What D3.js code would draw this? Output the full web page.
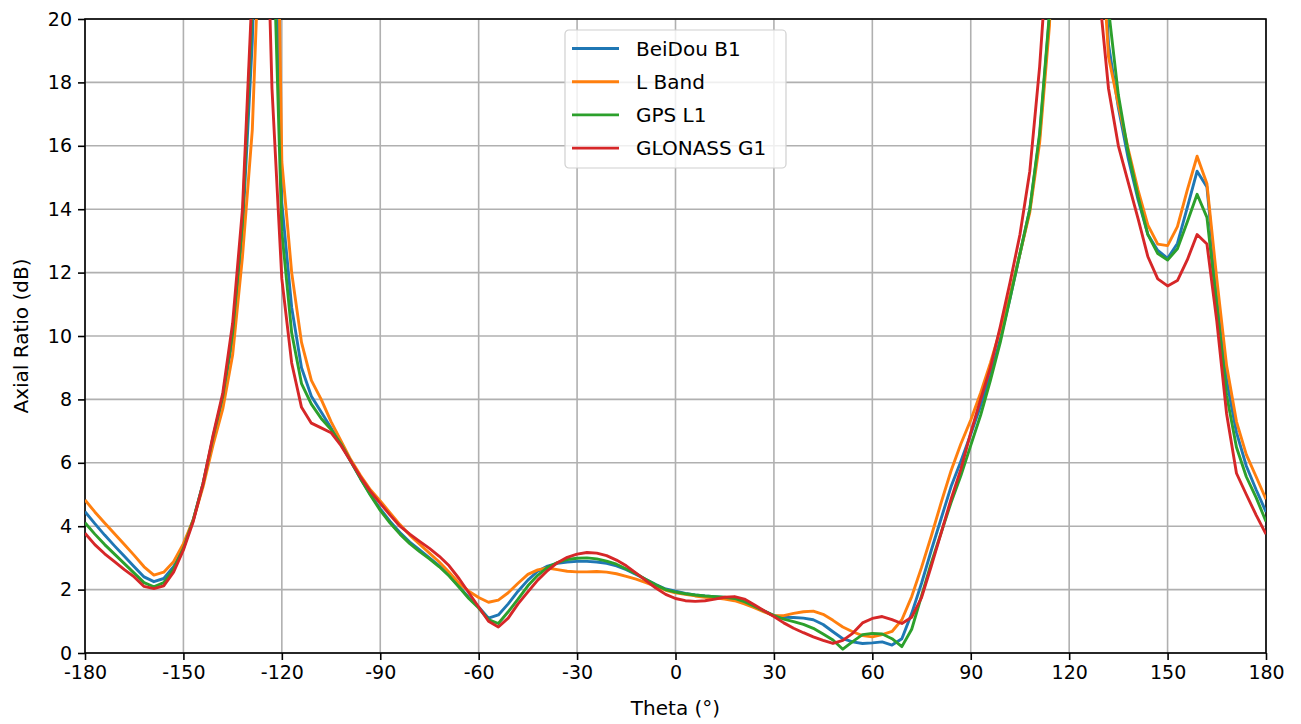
<!DOCTYPE html>
<html>
<head>
<meta charset="utf-8">
<script src="https://cdn.jsdelivr.net/npm/d3@7"></script>
<style>
    body{margin:0;background:#fff;}
    text{font-family:"DejaVu Sans",sans-serif;fill:#000;}
    .grid line{stroke:#b0b0b0;stroke-width:1.6;}
    .axis path,.axis line{stroke:#000;stroke-width:1.6;}
</style>
</head>
<body>
<div id="chart"></div>
<script>
// sampling angle (deg), one value per 3 degrees
const theta=[-180,-177,-174,-171,-168,-165,-162,-159,-156,-153,-150,-147,-144,-141,-138,-135,-132,-129,-126,-123,-120,
    -117,-114,-111,-108,-105,-102,-99,-96,-93,-90,-87,-84,-81,-78,-75,-72,-69,-66,-63,-60,
    -57,-54,-51,-48,-45,-42,-39,-36,-33,-30,-27,-24,-21,-18,-15,-12,-9,-6,-3,0,
    3,6,9,12,15,18,21,24,27,30,33,36,39,42,45,48,51,54,57,60,
    63,66,69,72,75,78,81,84,87,90,93,96,99,102,105,108,111,114,117,120,
    123,126,129,132,135,138,141,144,147,150,153,156,159,162,165,168,171,174,177,180];

const beidouB1=[4.46,4.08,3.72,3.38,3.05,2.72,2.4,2.25,2.35,2.72,3.35,4.2,5.35,6.75,8.1,9.9,13.3,19.3,30,28,14.2,
    10.9,9.0,8.1,7.6,7.1,6.6,6.05,5.5,5.0,4.55,4.15,3.8,3.5,3.25,3.0,2.75,2.45,2.1,1.75,1.45,
    1.1,1.2,1.55,1.95,2.3,2.58,2.74,2.83,2.87,2.89,2.89,2.87,2.83,2.75,2.63,2.48,2.32,2.16,2.02,1.95,
    1.88,1.83,1.8,1.78,1.75,1.7,1.6,1.47,1.32,1.18,1.13,1.12,1.1,1.05,0.9,0.67,0.45,0.35,0.3,0.32,
    0.35,0.25,0.45,1.25,2.2,3.25,4.25,5.25,6.05,6.9,7.8,8.75,9.9,11.2,12.6,14.0,16.3,20.1,30,38,
    38,33,25,19.2,17.2,15.6,14.3,13.2,12.7,12.45,12.92,14.05,15.2,14.7,11.4,8.6,6.96,5.9,5.15,4.45];

const lBand=[4.83,4.45,4.1,3.76,3.42,3.08,2.72,2.46,2.55,2.88,3.45,4.2,5.25,6.55,7.7,9.4,12.5,16.5,25,35,15.5,
    12.0,9.8,8.6,8.0,7.3,6.7,6.1,5.6,5.15,4.8,4.42,4.05,3.72,3.43,3.15,2.87,2.55,2.2,1.95,1.75,
    1.6,1.67,1.9,2.2,2.48,2.62,2.68,2.63,2.58,2.56,2.56,2.57,2.55,2.5,2.42,2.33,2.22,2.1,1.98,1.9,
    1.85,1.8,1.76,1.74,1.7,1.65,1.55,1.43,1.3,1.18,1.18,1.25,1.3,1.32,1.22,1.03,0.82,0.67,0.55,0.51,
    0.58,0.68,1.05,1.78,2.7,3.7,4.75,5.75,6.6,7.35,8.2,9.15,10.2,11.3,12.6,13.9,16.1,19.8,29,37,
    38,33,24,18.8,17.3,15.9,14.6,13.5,12.9,12.85,13.45,14.6,15.67,14.8,11.8,9.06,7.3,6.26,5.56,4.85];

const gpsL1=[4.11,3.75,3.42,3.12,2.82,2.52,2.22,2.09,2.22,2.65,3.3,4.2,5.35,6.8,8.1,10.1,13.6,20.5,33,24,13.3,
    10.1,8.5,7.85,7.4,7.05,6.6,6.05,5.5,4.98,4.5,4.1,3.75,3.45,3.2,2.97,2.72,2.43,2.08,1.72,1.42,
    1.05,0.93,1.3,1.7,2.12,2.45,2.7,2.85,2.95,2.99,3.0,2.97,2.9,2.8,2.65,2.5,2.32,2.15,2.0,1.92,
    1.87,1.83,1.8,1.78,1.76,1.72,1.62,1.48,1.33,1.18,1.07,0.99,0.9,0.78,0.6,0.41,0.12,0.36,0.58,0.62,
    0.6,0.45,0.2,0.75,1.8,2.85,3.8,4.75,5.6,6.55,7.5,8.6,9.8,11.2,12.6,14.0,16.4,20.2,30,38,
    39,35,26,20.3,17.6,15.8,14.4,13.2,12.6,12.4,12.75,13.6,14.47,13.74,10.94,8.13,6.49,5.56,4.9,4.15];

const glonassG1=[3.78,3.42,3.13,2.88,2.63,2.4,2.1,2.03,2.12,2.55,3.25,4.15,5.35,6.85,8.2,10.4,14.0,21,29,17.8,11.8,
    9.15,7.75,7.25,7.1,6.95,6.55,6.05,5.55,5.1,4.72,4.35,4.0,3.75,3.52,3.3,3.05,2.75,2.35,1.9,1.45,
    1.0,0.82,1.1,1.55,1.93,2.3,2.6,2.85,3.02,3.12,3.17,3.15,3.07,2.93,2.75,2.52,2.28,2.05,1.85,1.72,
    1.65,1.63,1.65,1.7,1.76,1.78,1.7,1.52,1.33,1.15,0.95,0.78,0.64,0.51,0.4,0.3,0.4,0.62,0.95,1.09,
    1.15,1.05,0.93,1.13,1.75,2.75,3.8,4.85,5.8,6.95,8.0,9.0,10.3,11.7,13.2,15.2,18.5,23,30,35,
    32,27,21,17.8,16.0,14.85,13.7,12.5,11.8,11.58,11.75,12.4,13.2,12.9,10.47,7.54,5.67,5.0,4.35,3.75];

const seriesNames=[`BeiDou B1`,`L Band`,`GPS L1`,`GLONASS G1`];
const seriesColors=[`#1f77b4`,`#ff7f0e`,`#2ca02c`,`#d62728`];
const xTicks=[-180,-150,-120,-90,-60,-30,0,30,60,90,120,150,180];
const yTicks=[0,2,4,6,8,10,12,14,16,18,20];

let Chart={
    format:{width:1301,height:724,margin:{left:85,right:35,top:19,bottom:71}},
    //empty svg + plot group
    generateGraph(container){
        let f=this.format;
        let svg=d3.select(container).append(`svg`)
            .attr(`width`,f.width)
            .attr(`height`,f.height);
        svg.append(`defs`).append(`clipPath`).attr(`id`,`plotclip`)
            .append(`rect`)
            .attr(`width`,f.width-f.margin.left-f.margin.right)
            .attr(`height`,f.height-f.margin.top-f.margin.bottom);
        return svg.append(`g`)
            .attr(`transform`,`translate(${f.margin.left},${f.margin.top})`);
    },
    generateAxes(graph,x,y,w,h){
        //grid first so it sits under the lines
        graph.append(`g`).attr(`class`,`grid`)
            .selectAll(`line.v`).data(xTicks).enter().append(`line`)
            .attr(`x1`,d=>x(d)).attr(`x2`,d=>x(d)).attr(`y1`,0).attr(`y2`,h);
        graph.select(`.grid`)
            .selectAll(`line.h`).data(yTicks).enter().append(`line`)
            .attr(`x1`,0).attr(`x2`,w).attr(`y1`,d=>y(d)).attr(`y2`,d=>y(d));

        let xa=graph.append(`g`).attr(`class`,`x axis`)
            .attr(`transform`,`translate(0,${h})`)
            .call(d3.axisBottom(x).tickValues(xTicks).tickFormat(d=>`${d}`).tickSize(7).tickPadding(6));
        let ya=graph.append(`g`).attr(`class`,`y axis`)
            .call(d3.axisLeft(y).tickValues(yTicks).tickFormat(d=>`${d}`).tickSize(7).tickPadding(6));
        graph.selectAll(`.axis text`).attr(`font-size`,`19px`).attr(`font-family`,`DejaVu Sans`);
        xa.select(`.domain`).remove();
        ya.select(`.domain`).remove();

        //frame (all four spines)
        graph.append(`rect`)
            .attr(`width`,w).attr(`height`,h)
            .attr(`fill`,`none`).attr(`stroke`,`#000`).attr(`stroke-width`,1.6);

        graph.append(`text`)
            .attr(`x`,w/2).attr(`y`,h+62)
            .attr(`text-anchor`,`middle`).attr(`font-size`,`20px`)
            .text(`Theta (°)`);
        graph.append(`text`)
            .attr(`transform`,`translate(-57,${h/2}) rotate(-90)`)
            .attr(`text-anchor`,`middle`).attr(`font-size`,`20px`)
            .text(`Axial Ratio (dB)`);
    },
    generateLines(graph,x,y,allSeries){
        let valueline=d3.line()
            .x(d=>x(d.theta))
            .y(d=>y(d.value));
        let g=graph.append(`g`).attr(`clip-path`,`url(#plotclip)`);
        allSeries.forEach((values,i)=>{
            let data=theta.map((t,k)=>({theta:t,value:values[k]}));
            g.append(`path`)
                .datum(data)
                .attr(`fill`,`none`)
                .attr(`stroke`,seriesColors[i])
                .attr(`stroke-width`,2.9)
                .attr(`stroke-linejoin`,`round`)
                .attr(`d`,valueline);
        });
    },
    generateLegend(graph,w){
        let bw=221,bh=138;
        let lg=graph.append(`g`)
            .attr(`transform`,`translate(${w/2-bw/2},11)`);
        lg.append(`rect`)
            .attr(`width`,bw).attr(`height`,bh)
            .attr(`rx`,4)
            .attr(`fill`,`#fff`).attr(`fill-opacity`,0.8)
            .attr(`stroke`,`#d0d0d0`).attr(`stroke-width`,1.2);
        seriesNames.forEach((name,i)=>{
            let yy=18.5+i*33.2;
            lg.append(`line`)
                .attr(`x1`,7).attr(`x2`,54)
                .attr(`y1`,yy).attr(`y2`,yy)
                .attr(`stroke`,seriesColors[i]).attr(`stroke-width`,2.9);
            lg.append(`text`)
                .attr(`x`,71).attr(`y`,yy)
                .attr(`dy`,`0.36em`)
                .attr(`font-size`,`20px`)
                .text(name);
        });
    }
};

let f=Chart.format;
let w=f.width-f.margin.left-f.margin.right;
let h=f.height-f.margin.top-f.margin.bottom;
let x=d3.scaleLinear().domain([-180,180]).range([0,w]);
let y=d3.scaleLinear().domain([0,20]).range([h,0]);

let graph=Chart.generateGraph(`#chart`);
Chart.generateAxes(graph,x,y,w,h);
Chart.generateLines(graph,x,y,[beidouB1,lBand,gpsL1,glonassG1]);
Chart.generateLegend(graph,w);
</script>
</body>
</html>
